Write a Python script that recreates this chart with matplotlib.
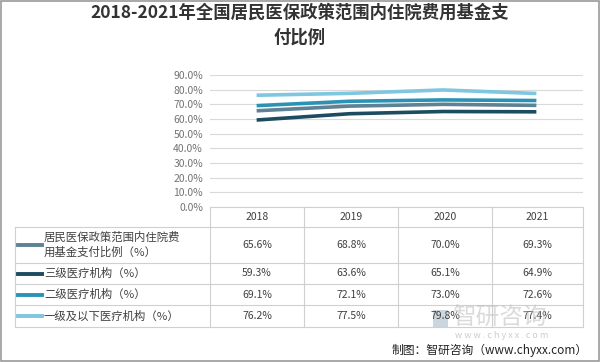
import matplotlib
matplotlib.use("Agg")
import matplotlib.pyplot as plt
from matplotlib.lines import Line2D
from matplotlib.patches import Rectangle

plt.rcParams['font.family'] = ['Noto Sans CJK SC', 'DejaVu Sans']

years = ["2018", "2019", "2020", "2021"]
series_names = ["居民医保政策范围内住院费\n用基金支付比例（%）",
                "三级医疗机构（%）", "二级医疗机构（%）", "一级及以下医疗机构（%）"]
v_total = [65.6, 68.8, 70.0, 69.3]
v_lvl3 = [59.3, 63.6, 65.1, 64.9]
v_lvl2 = [69.1, 72.1, 73.0, 72.6]
v_lvl1 = [76.2, 77.5, 79.8, 77.4]
series_vals = [v_total, v_lvl3, v_lvl2, v_lvl1]
colors = ["#5f8196", "#1d4c60", "#2a93b5", "#7fc6e0"]
yticks = [0, 10, 20, 30, 40, 50, 60, 70, 80, 90]

W, H = 600, 362
fig = plt.figure(figsize=(6.0, 3.62), dpi=100)

def fx(px): return px / W
def fy(py): return 1 - py / H

# outer border
fig.add_artist(Rectangle((0.001, 0.002), 0.997, 0.996, transform=fig.transFigure,
                         fill=False, edgecolor="#9a9a9a", lw=1.2))

fig.text(0.5, fy(25), "2018-2021年全国居民医保政策范围内住院费用基金支\n付比例",
         ha="center", va="center", fontsize=12.5, fontweight="bold", color="#333333",
         linespacing=1.5)

x0, x1 = 210, 583
ytop, ybot = 75, 207
ax = fig.add_axes([fx(x0), fy(ybot), fx(x1) - fx(x0), (ybot - ytop) / H])
xs = list(range(len(years)))
for vals, c in zip(series_vals, colors):
    ax.plot(xs, vals, color=c, lw=2.6, solid_capstyle="butt")
ax.set_xlim(-0.5, len(years) - 0.5)
ax.set_ylim(0, 90)
ax.set_yticks(yticks)
ax.set_yticklabels([f"{t:.1f}%" for t in yticks], fontsize=7.5, color="#737373")
ax.set_xticks([])
ax.tick_params(axis="y", length=0, pad=5)
ax.grid(axis="y", color="#d9d9d9", lw=0.8)
for s in ax.spines.values():
    s.set_visible(False)
ax.set_axisbelow(True)

# table
row_y = [207, 227, 263, 284, 305, 327]
col_x = [15, 210, 304, 398, 492, 583]
gc = "#d0d0d0"
def hline(y, xa, xb):
    fig.add_artist(Line2D([fx(xa), fx(xb)], [fy(y), fy(y)], color=gc, lw=0.8))
def vline(x, ya, yb):
    fig.add_artist(Line2D([fx(x), fx(x)], [fy(ya), fy(yb)], color=gc, lw=0.8))

hline(row_y[0], col_x[1], col_x[-1])
for y in row_y[1:]:
    hline(y, col_x[0], col_x[-1])
for x in col_x[1:]:
    vline(x, row_y[0], row_y[-1])
vline(col_x[0], row_y[1], row_y[-1])

for j, yr in enumerate(years):
    cx = (col_x[j + 1] + col_x[j + 2]) / 2
    fig.text(fx(cx), fy((row_y[0] + row_y[1]) / 2), yr, ha="center", va="center",
             fontsize=7.5, color="#404040")

for i, (name, vals, c) in enumerate(zip(series_names, series_vals, colors)):
    cy = (row_y[i + 1] + row_y[i + 2]) / 2
    fig.add_artist(Line2D([fx(18), fx(42)], [fy(cy), fy(cy)], color=c, lw=2.8))
    fig.text(fx(44), fy(cy), name, ha="left", va="center", fontsize=8.2,
             color="#404040", linespacing=1.45)
    for j, v in enumerate(vals):
        cx = (col_x[j + 1] + col_x[j + 2]) / 2
        fig.text(fx(cx), fy(cy), f"{v:.1f}%", ha="center", va="center",
                 fontsize=7.5, color="#404040")

# watermark
fig.add_artist(Rectangle((fx(433), fy(327)), 15 / W, 17 / H, transform=fig.transFigure,
                         facecolor="#a9bccb", edgecolor="none", alpha=0.6))
fig.text(fx(452), fy(318), "智研咨询", ha="left", va="center", fontsize=17,
         color="#bdbdbd", alpha=0.55)
fig.text(fx(455), fy(336), "w w w . c h y x x . c o m", ha="left", va="center",
         fontsize=6.5, color="#cccccc")

fig.text(fx(588), fy(350), "制图：智研咨询（www.chyxx.com）", ha="right", va="center",
         fontsize=8.5, color="#222222")

fig.savefig("out.png", dpi=100)
